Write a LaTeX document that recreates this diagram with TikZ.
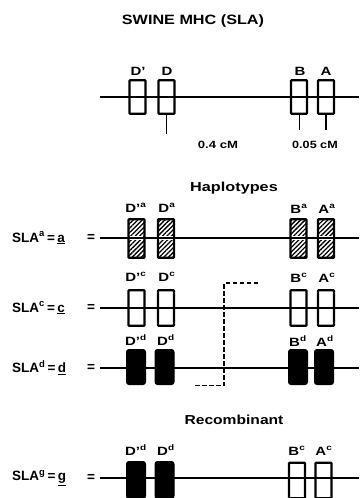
\documentclass[tikz,border=0pt]{standalone}
\usepackage{fontspec}
\setmainfont{Liberation Sans}
\usetikzlibrary{patterns.meta}
\newcommand{\widetxt}[2][1.25]{\scalebox{#1}[1]{#2}}
\begin{document}
\begin{tikzpicture}[x=1pt,y=-1pt,
  chrom/.style={line width=1.8pt},
  openbox/.style={draw, line width=2.3pt, minimum width=16pt, inner sep=0pt, rounded corners=0.8pt},
  hatchbox/.style={openbox, pattern={Lines[angle=45,distance=3.2pt,line width=1.3pt]}},
  fillbox/.style={draw, fill=black, line width=1pt, minimum width=19pt, inner sep=0pt, rounded corners=2.5pt},
  glabel/.style={font=\bfseries\fontsize{12}{12}\selectfont, inner sep=0pt},
  rowlabel/.style={font=\bfseries\fontsize{13.5}{13.5}\selectfont, inner sep=0pt, anchor=west},
  heading/.style={font=\bfseries\fontsize{13.5}{13.5}\selectfont, inner sep=0pt},
  subhead/.style={font=\bfseries\fontsize{13}{13}\selectfont, inner sep=0pt},
  dist/.style={font=\bfseries\fontsize{10.5}{10.5}\selectfont, inner sep=0pt},
  tick/.style={line width=1.6pt},
  recomb/.style={line width=1.4pt, dash pattern=on 4.5pt off 2.5pt}
]
\useasboundingbox (0,0) rectangle (359,498);

% title
\node[heading] (title) at (193,21) {\widetxt[1.2]{SWINE MHC (SLA)}};

% ---- top map ----
\coordinate (t0) at (100,97);
\coordinate (t1) at (359,97);
\draw[chrom] (t0) -- (t1);
\node[openbox, minimum height=33.5pt] (tDp) at (137.5,97) {};
\node[openbox, minimum height=33.5pt] (tD)  at (166.5,97) {};
\node[openbox, minimum height=33.5pt] (tB)  at (299,97) {};
\node[openbox, minimum height=33.5pt] (tA)  at (326,97) {};
\node[glabel] (ltDp) at (138,71) {\widetxt{D’}};
\node[glabel] (ltD)  at (167,71) {\widetxt{D}};
\node[glabel] (ltB)  at (300,71) {\widetxt{B}};
\node[glabel] (ltA)  at (326,71) {\widetxt{A}};
\coordinate (kD) at (166.5,134);
\coordinate (kB) at (299.5,130);
\coordinate (kA) at (326,130);
\draw[tick] (tD.south) -- (kD);
\draw[tick] (tB.south -| kB) -- (kB);
\draw[tick] (tA.south) -- (kA);
\node[dist] (d1) at (218,144.5) {\widetxt[1.25]{0.4 cM}};
\node[dist] (d2) at (315,144.5) {\widetxt[1.2]{0.05 cM}};

% ---- Haplotypes ----
\node[subhead] (hap) at (234,188) {\widetxt[1.25]{Haplotypes}};

% row a
\draw[chrom] (100,238) -- (359,238);
\foreach \n/\x in {aDp/136.5,aD/166,aB/298.5,aA/326}{
  \node[hatchbox, minimum height=38.5pt] (\n) at (\x,238.5) {};
  \draw[white, line width=3.6pt] (\x-6.9,238) -- (\x+6.9,238);
  \draw[chrom] (\x-9.5,238) -- (\x+9.5,238);
}
\node[rowlabel] (la) at (12,238) {SLA\textsuperscript{a}\,=\,\underline{a}};
\node[rowlabel] (lae) at (87,238) {=};
\node[glabel] (laDp) at (136,208) {\widetxt{D’\textsuperscript{a}}};
\node[glabel] (laD)  at (167,208) {\widetxt{D\textsuperscript{a}}};
\node[glabel] (laB)  at (299,209) {\widetxt{B\textsuperscript{a}}};
\node[glabel] (laA)  at (327,209) {\widetxt{A\textsuperscript{a}}};

% row c
\draw[chrom] (100,308) -- (359,308);
\node[openbox, minimum height=35.5pt] (cDp) at (136.5,308) {};
\node[openbox, minimum height=35.5pt] (cD)  at (166,308) {};
\node[openbox, minimum height=35.5pt] (cB)  at (298.5,308) {};
\node[openbox, minimum height=35.5pt] (cA)  at (326,308) {};
\node[rowlabel] (lc) at (12,308) {SLA\textsuperscript{c}\,=\,\underline{c}};
\node[rowlabel] (lce) at (87,308) {=};
\node[glabel] (lcDp) at (136,277) {\widetxt{D’\textsuperscript{c}}};
\node[glabel] (lcD)  at (167,277) {\widetxt{D\textsuperscript{c}}};
\node[glabel] (lcB)  at (299,278) {\widetxt{B\textsuperscript{c}}};
\node[glabel] (lcA)  at (327,278) {\widetxt{A\textsuperscript{c}}};

% row d
\draw[chrom] (100,368) -- (359,368);
\node[fillbox, minimum height=35pt] (dDp) at (136,367) {};
\node[fillbox, minimum height=35pt] (dD)  at (164.5,367) {};
\node[fillbox, minimum height=35pt] (dB)  at (298,367) {};
\node[fillbox, minimum height=35pt] (dA)  at (324,367) {};
\node[rowlabel] (ld) at (12,368) {SLA\textsuperscript{d}\,=\,\underline{d}};
\node[rowlabel] (lde) at (87,368) {=};
\node[glabel] (ldDp) at (136,340) {\widetxt{D’\textsuperscript{d}}};
\node[glabel] (ldD)  at (166,340) {\widetxt{D\textsuperscript{d}}};
\node[glabel] (ldB)  at (298,341) {\widetxt{B\textsuperscript{d}}};
\node[glabel] (ldA)  at (325,341) {\widetxt{A\textsuperscript{d}}};

% recombination dashed line
\coordinate (r1) at (258,283);
\coordinate (r2) at (224,283);
\coordinate (r3) at (224,385.5);
\coordinate (r4) at (194,385.5);
\draw[recomb] (r1) -- (r2) -- (r3) -- (r4);

% ---- Recombinant ----
\node[subhead] (rec) at (234,420) {\widetxt[1.2]{Recombinant}};

% row g
\draw[chrom] (100,478) -- (359,478);
\node[fillbox, minimum height=37pt] (gDp) at (136,480) {};
\node[fillbox, minimum height=37pt] (gD)  at (164.5,480) {};
\node[openbox, minimum height=35.5pt] (gB)  at (297,480.5) {};
\node[openbox, minimum height=35.5pt] (gA)  at (323.5,480.5) {};
\node[rowlabel] (lg) at (12,478) {SLA\textsuperscript{g}\,=\,\underline{g}};
\node[rowlabel] (lge) at (87,478) {=};
\node[glabel] (lgDp) at (136,450) {\widetxt{D’\textsuperscript{d}}};
\node[glabel] (lgD)  at (166,450) {\widetxt{D\textsuperscript{d}}};
\node[glabel] (lgB)  at (297,451) {\widetxt{B\textsuperscript{c}}};
\node[glabel] (lgA)  at (324,451) {\widetxt{A\textsuperscript{c}}};
\end{tikzpicture}
\end{document}
